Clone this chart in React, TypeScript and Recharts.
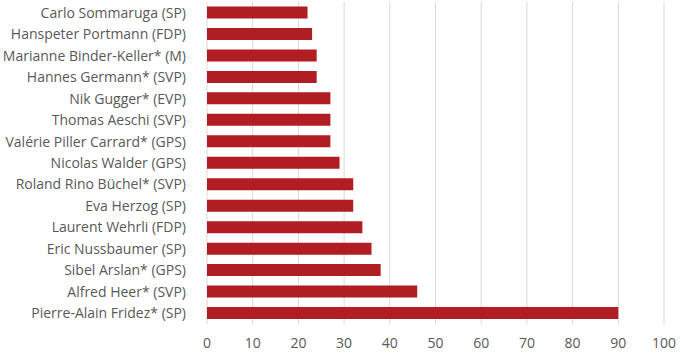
import { BarChart, Bar, XAxis, YAxis, CartesianGrid } from 'recharts';

const names = [
  'Carlo Sommaruga (SP)',
  'Hanspeter Portmann (FDP)',
  'Marianne Binder-Keller* (M)',
  'Hannes Germann* (SVP)',
  'Nik Gugger* (EVP)',
  'Thomas Aeschi (SVP)',
  'Valérie Piller Carrard* (GPS)',
  'Nicolas Walder (GPS)',
  'Roland Rino Büchel* (SVP)',
  'Eva Herzog (SP)',
  'Laurent Wehrli (FDP)',
  'Eric Nussbaumer (SP)',
  'Sibel Arslan* (GPS)',
  'Alfred Heer* (SVP)',
  'Pierre-Alain Fridez* (SP)',
];

const values = [22, 23, 24, 24, 27, 27, 27, 29, 32, 32, 34, 36, 38, 46, 90];

const xTicks = [0, 10, 20, 30, 40, 50, 60, 70, 80, 90, 100];

const data = names.map((name, i) => ({ name, value: values[i] }));

const font = '"Open Sans", sans-serif';

export default function App() {
  return (
    <div style={{ position: 'absolute', left: 0, top: 0, background: '#fff' }}>
      <BarChart
        width={680}
        height={356}
        data={data}
        layout="vertical"
        margin={{ top: 2, right: 16, bottom: 0, left: 0 }}
        barCategoryGap="21%"
      >
        <CartesianGrid horizontal={false} stroke="#d9d9d9" />
        <XAxis
          type="number"
          domain={[0, 100]}
          ticks={xTicks}
          axisLine={false}
          tickLine={false}
          height={32}
          tickMargin={8}
          tick={{ fill: '#595959', fontSize: 14, fontFamily: font }}
          interval={0}
        />
        <YAxis
          type="category"
          dataKey="name"
          width={207}
          axisLine={false}
          tickLine={false}
          tickMargin={15}
          interval={0}
          tick={{ fill: '#595959', fontSize: 14, fontFamily: font }}
        />
        <Bar dataKey="value" fill="#B01E23" isAnimationActive={false} />
      </BarChart>
    </div>
  );
}
